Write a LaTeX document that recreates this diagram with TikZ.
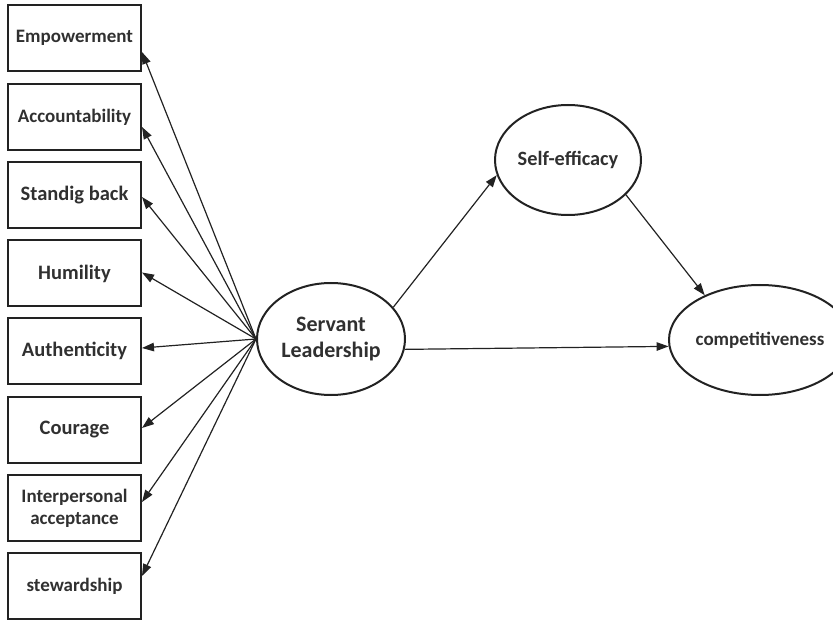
\documentclass[tikz,border=0pt]{standalone}
\usepackage{fontspec}
\setmainfont{Carlito}
\usetikzlibrary{shapes.geometric,arrows.meta}
\definecolor{ink}{HTML}{222222}
\definecolor{txt}{HTML}{303030}
\tikzset{
  boxnode/.style={draw=ink, line width=2pt, rectangle, minimum width=133pt, minimum height=66pt, inner sep=0pt, text=txt, font=\bfseries\fontsize{19}{22}\selectfont, align=center},
  bigtext/.style={font=\bfseries\fontsize{20.5}{23}\selectfont},
  ovalnode/.style={draw=ink, line width=2pt, ellipse, inner sep=0pt, text=txt, align=center},
  conn/.style={draw=ink, line width=1.2pt, -{Triangle[length=12pt,width=8.5pt]}}
}
\begin{document}
\begin{tikzpicture}[x=1pt,y=-1pt]
\useasboundingbox (0,0) rectangle (833,620);
\node[boxnode] (b1) at (74.5,38) {Empowerment};
\node[boxnode] (b2) at (74.5,117) {Accountability};
\node[boxnode,bigtext] (b3) at (74.5,195) {Standig back};
\node[boxnode,bigtext] (b4) at (74.5,273.5) {Humility};
\node[boxnode,bigtext] (b5) at (74.5,351) {Authenticity};
\node[boxnode,bigtext] (b6) at (74.5,430) {Courage};
\node[boxnode,font=\bfseries\fontsize{19}{22}\selectfont] (b7) at (74.5,508) {Interpersonal\\acceptance};
\node[boxnode] (b8) at (74.5,586) {stewardship};
\node[ovalnode, minimum width=148pt, minimum height=112pt, font=\bfseries\fontsize{22}{25.5}\selectfont] (sl) at (331,339) {\raisebox{-2pt}{Servant}\\\raisebox{-2pt}{Leadership}};
\node[ovalnode, minimum width=146pt, minimum height=110pt, font=\bfseries\fontsize{20.3}{24}\selectfont] (se) at (568,160) {Self-efficacy};
\node[ovalnode, minimum width=140pt, minimum height=110pt, font=\bfseries\fontsize{19}{22}\selectfont] (co) at (760,340) {competitiveness};
\draw[conn] (sl.west) -- ([yshift=-14pt]b1.east);
\draw[conn] (sl.west) -- ([yshift=-10pt]b2.east);
\draw[conn] (sl.west) -- ([yshift=-2pt]b3.east);
\draw[conn] (sl.west) -- ([yshift=1pt]b4.east);
\draw[conn] (sl.west) -- ([yshift=3pt]b5.east);
\draw[conn] (sl.west) -- ([yshift=2pt]b6.east);
\draw[conn] (sl.west) -- ([yshift=6pt]b7.east);
\draw[conn] (sl.west) -- ([yshift=10pt]b8.east);
\draw[conn] (sl.27) -- (se.192);
\draw[conn] (se.-31) -- (co.141);
\draw[conn] (sl.-8) -- (co.184);
\end{tikzpicture}
\end{document}
